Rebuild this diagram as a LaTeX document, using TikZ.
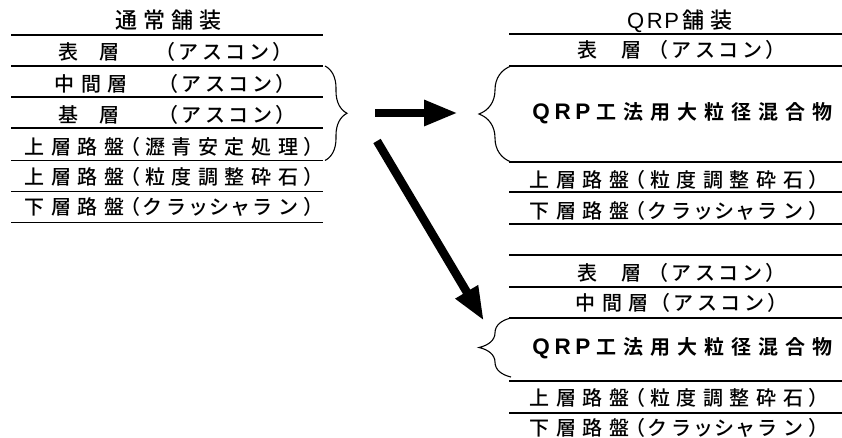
\documentclass[tikz,border=0pt]{standalone}
\usepackage{fontspec}
\usetikzlibrary{arrows.meta,decorations.pathreplacing}
\newfontfamily\jp{Noto Sans CJK JP Medium}
\newfontfamily\jpp[Script=CJK,RawFeature=+palt]{Noto Sans CJK JP Medium}
\newfontfamily\jpbold{Noto Sans CJK JP Bold}
\newfontfamily\lat{Liberation Sans}
\newfontfamily\latbold{Liberation Sans Bold}
\makeatletter
\newcommand\gl[2]{\def\gl@w{#1}\gl@loop#2\relax}
\def\gl@loop#1{\ifx#1\relax\else\makebox[\gl@w pt][c]{#1}\expandafter\gl@loop\fi}
\makeatother
\newcommand\bx[2]{\makebox[#1pt][c]{#2}}
\newcommand\LP{\makebox[14pt][c]{\jpp （}}
\newcommand\RP{\makebox[15pt][c]{\jpp ）}}
\newcommand\ASC{\LP\gl{23.5}{アスコン}\RP}
\newcommand\CRS{\LP\bx{22}{ク}\bx{26}{ラ}\bx{18}{ッ}\bx{24}{シ}\bx{18}{ャ}\bx{26}{ラ}\bx{26}{ン}\RP}
\newcommand\QRPb{{\fontsize{22.5}{24}\latbold\bx{22}{Q}\bx{21}{R}\bx{19.5}{P}}}
\begin{document}
\begin{tikzpicture}[x=1pt,y=-1pt,
  lay/.style={line width=1.8pt},
  txt/.style={inner sep=0pt,font=\fontsize{20}{22}\jp},
  ttl/.style={inner sep=0pt,font=\fontsize{22}{24}\jp},
  bold/.style={inner sep=0pt,anchor=west,font=\fontsize{20}{22}\jpbold},
  bigarrow/.style={line width=8.5pt,-{Triangle[length=34pt,width=24pt]}},
  bracestyle/.style={line width=1.1pt,decorate},
]
\useasboundingbox (0,0) rectangle (842,438);
% ---------- left column ----------
\node[ttl] (lt) at (168.5,20.5) {\gl{28}{通常舗装}};
\foreach \yy in {35,66,97.3,128.3,160.5,191.5,222.5} \draw[lay] (11,\yy) -- (323,\yy);
\node[txt,anchor=west] (l1) at (55,52) {\gl{26.6}{表}\hspace{14.4pt}\gl{26.6}{層}\hspace{40.4pt}\ASC};
\node[txt,anchor=west] (l2) at (51,84) {\gl{26.6}{中間層}\hspace{35.2pt}\ASC};
\node[txt,anchor=west] (l3) at (55,115) {\gl{26.6}{基}\hspace{14.4pt}\gl{26.6}{層}\hspace{43.4pt}\ASC};
\node[txt] (l4) at (169,146.5) {\gl{26.6}{上層路盤}\LP\gl{26.6}{瀝青安定処理}\RP};
\node[txt] (l5) at (169,176.5) {\gl{26.6}{上層路盤}\LP\gl{26.6}{粒度調整砕石}\RP};
\node[txt] (l6) at (169,206.5) {\gl{26.6}{下層路盤}\CRS};
\coordinate (lbt) at (325,66);
\coordinate (lbb) at (325,160.5);
\draw[bracestyle,decoration={brace,amplitude=22pt}] (lbt) -- (lbb);
% ---------- right top ----------
\node[ttl,anchor=west] (rt) at (626,21.5) {{\lat\bx{19}{Q}\bx{19}{R}\bx{15}{P}}\gl{28}{舗装}};
\foreach \yy in {34,66,162,192,224} \draw[lay] (509,\yy) -- (842,\yy);
\node[txt,anchor=west] (r1) at (574,50) {\gl{26.6}{表}\hspace{17.4pt}\gl{26.6}{層}\hspace{11.4pt}\ASC};
\node[bold] (r2) at (530,113.5) {\QRPb\gl{27}{工法用大粒径混合物}};
\node[txt] (r3) at (674,180) {\gl{26.6}{上層路盤}\LP\gl{26.6}{粒度調整砕石}\RP};
\node[txt] (r4) at (674,210.5) {\gl{26.6}{下層路盤}\CRS};
\coordinate (rbt) at (511,66);
\coordinate (rbb) at (511,162);
\draw[bracestyle,decoration={brace,amplitude=32pt}] (rbb) -- (rbt);
% ---------- right bottom ----------
\foreach \yy in {255,287,318,381,413} \draw[lay] (509,\yy) -- (842,\yy);
\node[txt,anchor=west] (s1) at (574,272.5) {\gl{26.6}{表}\hspace{17.4pt}\gl{26.6}{層}\hspace{11.4pt}\ASC};
\node[txt,anchor=west] (s2) at (572,302.5) {\gl{26.6}{中間層}\hspace{6pt}\ASC};
\node[bold] (s3) at (530,348) {\QRPb\gl{27}{工法用大粒径混合物}};
\node[txt] (s4) at (674,397.5) {\gl{26.6}{上層路盤}\LP\gl{26.6}{粒度調整砕石}\RP};
\node[txt] (s5) at (674,427.5) {\gl{26.6}{下層路盤}\CRS};
\coordinate (sbt) at (511,318);
\coordinate (sbb) at (511,377);
\draw[bracestyle,decoration={brace,amplitude=32pt}] (sbb) -- (sbt);
% ---------- arrows ----------
\coordinate (ha) at (375,113);
\coordinate (hb) at (458,113);
\draw[bigarrow] (ha) -- (hb);
\coordinate (da) at (377,141);
\coordinate (db) at (484,321);
\draw[bigarrow] (da) -- (db);
\end{tikzpicture}
\end{document}
